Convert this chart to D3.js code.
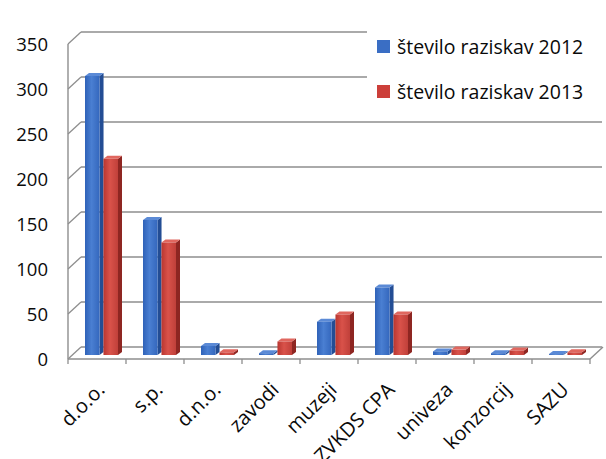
<!DOCTYPE html>
<html>
<head>
<meta charset="utf-8">
<script src="https://cdn.jsdelivr.net/npm/d3@7"></script>
<style>
  body { margin: 0; background: #fff; }
  text { font-family: "Open Sans", Lato, sans-serif; fill: #0a0a0a; }
</style>
</head>
<body>
<svg id="chart" width="606" height="459"></svg>
<script>
var categories = ["d.o.o.", "s.p.", "d.n.o.", "zavodi", "muzeji", "ZVKDS CPA", "univeza", "konzorcij", "SAZU"];
var series2012 = [310, 150, 10, 2, 37, 75, 4, 2, 1];
var series2013 = [218, 125, 3, 15, 45, 45, 6, 5, 3];
var seriesNames = ["število raziskav 2012", "število raziskav 2013"];
var yTicks = [0, 50, 100, 150, 200, 250, 300, 350];

var svg = d3.select("#chart");

// front plane scales, back wall is shifted by depth
var x = d3.scaleBand().domain(categories).range([68, 590]);
var y = d3.scaleLinear().domain([0, 350]).range([359, 44]);
var depthX = 13, depthY = -12;
var right = 602;
var gridColor = "#8e8e8e";

var grid = svg.append("g");
// back wall gridlines
grid.selectAll("line.back")
    .data(yTicks)
    .enter()
    .append("line")
    .attr("x1", x.range()[0] + depthX)
    .attr("x2", right)
    .attr("y1", function(d){ return y(d) + depthY })
    .attr("y2", function(d){ return y(d) + depthY })
    .style("stroke", gridColor)
    .style("stroke-width", 1.6);
// side wall diagonals
grid.selectAll("line.side")
    .data(yTicks)
    .enter()
    .append("line")
    .attr("x1", x.range()[0])
    .attr("x2", x.range()[0] + depthX)
    .attr("y1", function(d){ return y(d) })
    .attr("y2", function(d){ return y(d) + depthY })
    .style("stroke", gridColor)
    .style("stroke-width", 1.3);
// left axis line
grid.append("line")
    .attr("x1", x.range()[0]).attr("x2", x.range()[0])
    .attr("y1", y(0)).attr("y2", y(350))
    .style("stroke", gridColor).style("stroke-width", 1.4);
// floor front edge and right diagonal
grid.append("line")
    .attr("x1", x.range()[0]).attr("x2", x.range()[1])
    .attr("y1", y(0)).attr("y2", y(0))
    .style("stroke", gridColor).style("stroke-width", 1.4);
grid.append("line")
    .attr("x1", x.range()[1]).attr("x2", x.range()[1] + depthX)
    .attr("y1", y(0)).attr("y2", y(0) + depthY)
    .style("stroke", gridColor).style("stroke-width", 1.4);
// ticks on floor
grid.selectAll("line.tick")
    .data(categories.concat([null]))
    .enter()
    .append("line")
    .attr("x1", function(d, i){ return x.range()[0] + i * x.bandwidth() })
    .attr("x2", function(d, i){ return x.range()[0] + i * x.bandwidth() })
    .attr("y1", y(0))
    .attr("y2", y(0) + 5)
    .style("stroke", gridColor).style("stroke-width", 1.3);

// gradients
var defs = svg.append("defs");
function addGrad(id, c1, c2, c3){
    var g = defs.append("linearGradient").attr("id", id)
        .attr("x1", "0%").attr("x2", "100%").attr("y1", "0%").attr("y2", "0%");
    g.append("stop").attr("offset", "0%").attr("stop-color", c1);
    g.append("stop").attr("offset", "45%").attr("stop-color", c2);
    g.append("stop").attr("offset", "100%").attr("stop-color", c3);
}
addGrad("gBlue", "#2f62b8", "#4a7fd2", "#3467bd");
addGrad("gRed", "#b93630", "#d9524a", "#c0403a");

var colors = [
    {front: "url(#gBlue)", side: "#234d94", top: "#5b8ad6", legend: "#3a6ec4"},
    {front: "url(#gRed)", side: "#8e2622", top: "#e0675f", legend: "#cc3f3a"}
];

// bars sit in middle of depth
var barDX = 5, barDY = -4;
var inner = d3.scaleBand().domain([0, 1]).range([12, 48]).paddingInner(0.05);
var bw = inner.bandwidth() - 3, sdx = 4, sdy = -3;

var bars = [];
categories.forEach(function(c, i){
    bars.push({cat: c, s: 0, v: series2012[i]});
    bars.push({cat: c, s: 1, v: series2013[i]});
});

var barG = svg.append("g").selectAll("g")
    .data(bars)
    .enter()
    .append("g");

function bx(d){ return x(d.cat) + inner(d.s) + barDX }
function by(d){ return y(d.v) + barDY }
var base = y(0) + barDY;

barG.append("polygon")
    .attr("points", function(d){
        var x0 = bx(d) + bw, t = by(d);
        return [[x0, t], [x0 + sdx, t + sdy], [x0 + sdx, base + sdy], [x0, base]].join(" ");
    })
    .style("fill", function(d){ return colors[d.s].side });
barG.append("polygon")
    .attr("points", function(d){
        var x0 = bx(d), t = by(d);
        return [[x0, t], [x0 + sdx, t + sdy], [x0 + bw + sdx, t + sdy], [x0 + bw, t]].join(" ");
    })
    .style("fill", function(d){ return colors[d.s].top });
barG.append("rect")
    .attr("x", bx)
    .attr("y", by)
    .attr("width", bw)
    .attr("height", function(d){ return base - by(d) })
    .style("fill", function(d){ return colors[d.s].front });

// y labels
svg.append("g").selectAll("text")
    .data(yTicks)
    .enter()
    .append("text")
    .attr("x", 48)
    .attr("y", function(d){ return y(d) })
    .attr("dy", "0.36em")
    .attr("text-anchor", "end")
    .style("font-size", "18.5px")
    .text(function(d){ return d });

// x labels
svg.append("g").selectAll("text")
    .data(categories)
    .enter()
    .append("text")
    .attr("transform", function(d){
        return "translate(" + (x(d) + x.bandwidth() / 2 + 9) + "," + (y(0) + 32) + ") rotate(-45)";
    })
    .attr("text-anchor", "end")
    .style("font-size", "20px")
    .text(function(d){ return d });

// legend
var leg = svg.append("g");
leg.append("rect")
    .attr("x", 367).attr("y", 26).attr("width", 239).attr("height", 86)
    .style("fill", "#fff");
leg.selectAll("rect.sw")
    .data(seriesNames)
    .enter()
    .append("rect")
    .attr("x", 377)
    .attr("y", function(d, i){ return 40 + i * 45 })
    .attr("width", 13)
    .attr("height", 13)
    .style("fill", function(d, i){ return colors[i].legend });
leg.selectAll("text")
    .data(seriesNames)
    .enter()
    .append("text")
    .attr("x", 397)
    .attr("y", function(d, i){ return 54 + i * 45 })
    .style("font-size", "19.5px")
    .text(function(d){ return d });
</script>
</body>
</html>
